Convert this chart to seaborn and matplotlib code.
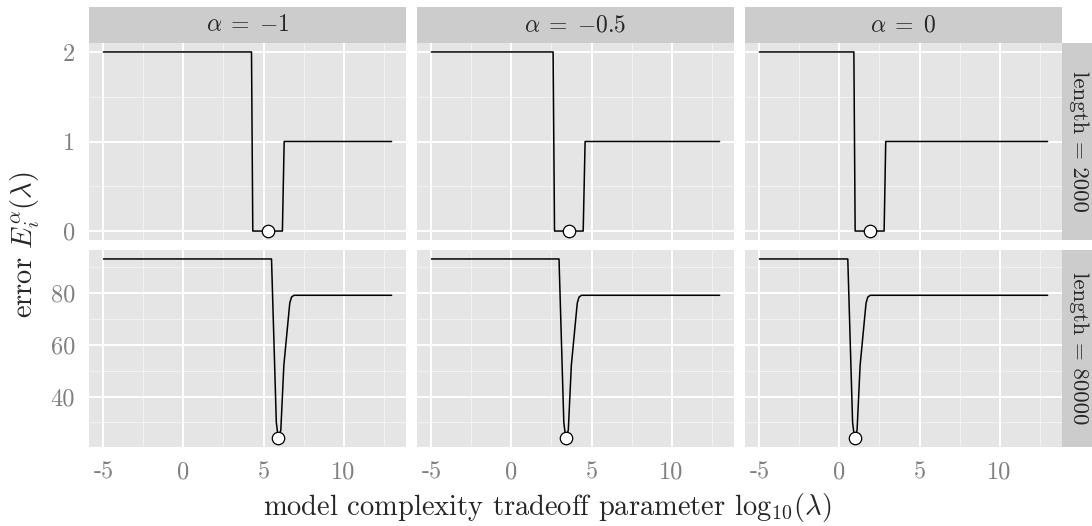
import matplotlib
matplotlib.use("Agg")
import matplotlib.pyplot as plt
import seaborn as sns
import pandas as pd

# ---------------- data ----------------
alphas = ["-1", "-0.5", "0"]
lengths = ["2000", "80000"]

# length = 2000
top_x_m1 = [-5, 4.25, 4.33, 6.18, 6.29, 13]
top_x_m05 = [-5, 2.60, 2.69, 4.48, 4.60, 13]
top_x_0 = [-5, 0.90, 0.98, 2.79, 2.89, 13]
top_y = [2, 2, 0, 0, 1, 1]
top_min_x = [5.30, 3.58, 1.88]
top_min_y = [0, 0, 0]

# length = 80000
bot_x_m1 = [-5, 5.50, 5.80, 5.92, 6.08, 6.27, 6.64, 6.75, 6.90, 13]
bot_x_m05 = [-5, 2.97, 3.27, 3.39, 3.55, 3.74, 4.11, 4.22, 4.37, 13]
bot_x_0 = [-5, 0.52, 0.82, 0.94, 1.10, 1.29, 1.66, 1.77, 1.92, 13]
bot_y = [93, 93, 30, 24, 27, 52, 76, 78.3, 79, 79]
bot_min_x = [5.92, 3.39, 0.94]
bot_min_y = [24, 24, 24]

x_ticks = [-5, 0, 5, 10]
x_ticklabels = ["-5", "0", "5", "10"]
top_yticks = [0, 1, 2]
bot_yticks = [40, 60, 80]

# ---------------- style ----------------
sns.set_style("white")
plt.rcParams["font.family"] = ["cmr10", "DejaVu Serif"]
plt.rcParams["mathtext.fontset"] = "cm"
plt.rcParams["axes.unicode_minus"] = False
plt.rcParams["axes.formatter.use_mathtext"] = True

W, H = 1092, 526
fig = plt.figure(figsize=(W / 100, H / 100), dpi=100)
fig.patch.set_facecolor("white")


def fr(x0, y0, x1, y1):
    return [x0 / W, 1 - y1 / H, (x1 - x0) / W, (y1 - y0) / H]


col_left = [89, 417, 745]
col_w = 317
row_top = [(43, 240), (250, 447)]
STRIP = "#CCCCCC"
BG = "#E5E5E5"
TICKC = "#7F7F7F"

top_xs = [top_x_m1, top_x_m05, top_x_0]
bot_xs = [bot_x_m1, bot_x_m05, bot_x_0]

for r in range(2):
    y0, y1 = row_top[r]
    for c in range(3):
        x0 = col_left[c]
        ax = fig.add_axes(fr(x0, y0, x0 + col_w, y1))
        ax.set_facecolor(BG)
        for s in ax.spines.values():
            s.set_visible(False)
        if r == 0:
            xs, ys = top_xs[c], top_y
            mx, my = [top_min_x[c]], [top_min_y[c]]
            yt, ymin, ymax = top_yticks, -0.1, 2.1
            yminor = [0.5, 1.5]
        else:
            xs, ys = bot_xs[c], bot_y
            mx, my = [bot_min_x[c]], [bot_min_y[c]]
            yt, ymin, ymax = bot_yticks, 24 - 3.45, 93 + 3.45
            yminor = [30, 50, 70, 90]
        ax.set_xlim(-5.9, 13.9)
        ax.set_ylim(ymin, ymax)
        # grid
        for v in [-2.5, 2.5, 7.5, 12.5]:
            ax.axvline(v, color="#F2F2F2", lw=0.8, zorder=0)
        for v in yminor:
            ax.axhline(v, color="#F2F2F2", lw=0.8, zorder=0)
        for v in x_ticks:
            ax.axvline(v, color="white", lw=1.4, zorder=0.5)
        for v in yt:
            ax.axhline(v, color="white", lw=1.4, zorder=0.5)
        df = pd.DataFrame({"x": xs, "y": ys})
        sns.lineplot(data=df, x="x", y="y", ax=ax, sort=False, estimator=None,
                     color="black", lw=1.1, zorder=2)
        dm = pd.DataFrame({"x": mx, "y": my})
        sns.scatterplot(data=dm, x="x", y="y", ax=ax, s=80, color="white",
                        edgecolor="black", linewidth=0.9, zorder=3, clip_on=False)
        ax.set_xlabel("")
        ax.set_ylabel("")
        ax.set_xticks(x_ticks)
        ax.set_yticks(yt)
        ax.tick_params(axis="both", direction="out", length=7, width=0.9,
                       color=TICKC, labelcolor=TICKC, labelsize=17.5, pad=3)
        if r == 0:
            ax.tick_params(axis="x", bottom=False, labelbottom=False)
        else:
            ax.set_xticklabels(x_ticklabels)
        if c == 0:
            ax.set_yticklabels([str(v) for v in yt])
        else:
            ax.tick_params(axis="y", left=False, labelleft=False)

        # top strips
        if r == 0:
            sax = fig.add_axes(fr(x0, 7, x0 + col_w, 43))
            sax.set_facecolor(STRIP)
            sax.set_xticks([]); sax.set_yticks([])
            for s in sax.spines.values():
                s.set_visible(False)
            sax.text(0.5, 0.5, r"$\alpha\;=\;{%s}$" % alphas[c],
                     ha="center", va="center", fontsize=17, transform=sax.transAxes)
    # right strips
    rax = fig.add_axes(fr(1062, y0, 1092, y1))
    rax.set_facecolor(STRIP)
    rax.set_xticks([]); rax.set_yticks([])
    for s in rax.spines.values():
        s.set_visible(False)
    rax.text(0.55, 0.5, "length = %s" % lengths[r], rotation=-90,
             ha="center", va="center", fontsize=16.5, transform=rax.transAxes)

fig.text(547 / W, 1 - 507 / H,
         r"model complexity tradeoff parameter $\mathrm{log}_{10}(\lambda)$",
         ha="center", va="center", fontsize=20.5)
fig.text(25 / W, 1 - 245 / H, r"error $E_i^\alpha(\lambda)$",
         ha="center", va="center", rotation=90, fontsize=20.5)

fig.savefig("out.png", dpi=100)
